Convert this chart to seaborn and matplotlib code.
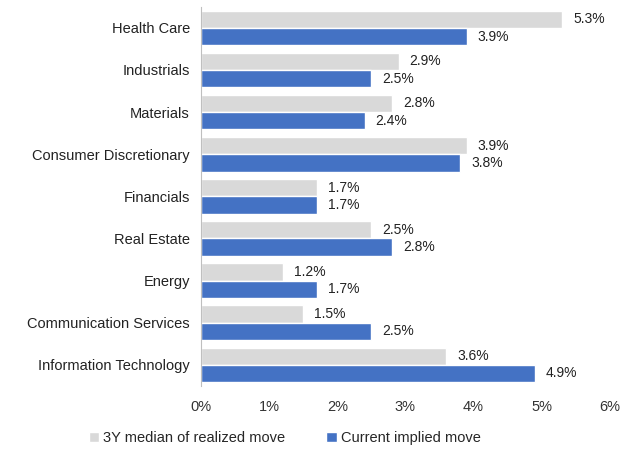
import pandas as pd
import numpy as np
import matplotlib.pyplot as plt
import seaborn as sns
from matplotlib.ticker import FixedLocator, PercentFormatter

# values (in %)
sectors = ['Health Care', 'Industrials', 'Materials', 'Consumer Discretionary',
           'Financials', 'Real Estate', 'Energy', 'Communication Services',
           'Information Technology']
realized = [5.3, 2.9, 2.8, 3.9, 1.7, 2.5, 1.2, 1.5, 3.6]
implied = [3.9, 2.5, 2.4, 3.8, 1.7, 2.8, 1.7, 2.5, 4.9]
series = ['3Y median of realized move', 'Current implied move']
colors = ['#d9d9d9', '#4472c4']

df = pd.DataFrame({'sector': sectors * 2,
                   'value': realized + implied,
                   'series': [series[0]] * len(sectors) + [series[1]] * len(sectors)})

sns.set_theme(style='white')
plt.rcParams['font.family'] = ['Liberation Sans Narrow', 'Liberation Sans', 'DejaVu Sans']

fig, ax = plt.subplots(figsize=(6.32, 4.54), dpi=100)
fig.subplots_adjust(left=0.318, right=0.965, top=0.985, bottom=0.15)

sns.barplot(data=df, x='value', y='sector', hue='series', orient='h',
            palette=colors, order=sectors, hue_order=series,
            width=0.82, saturation=1, ax=ax)

# value labels to the right of each bar
for cont in ax.containers:
    ax.bar_label(cont, labels=[f'{v:.1f}%' for v in cont.datavalues],
                 padding=8, fontsize=10, color='#222222')

ax.set_xlim(0, 6)
ax.set_xticks(range(0, 7))
ax.xaxis.set_major_formatter(PercentFormatter(decimals=0))
ax.set_xlabel('')
ax.set_ylabel('')
ax.tick_params(axis='x', length=0, labelsize=10.5, colors='#333333', pad=10)
ax.tick_params(axis='y', which='major', length=0, labelsize=10.5, colors='#222222', pad=8)

# small separators between categories on the y axis
ax.yaxis.set_minor_locator(FixedLocator(np.arange(-0.5, len(sectors), 1.0)))
ax.tick_params(axis='y', which='minor', length=5, color='#bfbfbf', width=0.8)

for s in ['top', 'right', 'bottom']:
    ax.spines[s].set_visible(False)
ax.spines['left'].set_color('#bfbfbf')
ax.spines['left'].set_linewidth(0.8)

ax.legend(loc='upper center', bbox_to_anchor=(0.205, -0.085), ncol=2, frameon=False,
          fontsize=10.5, handlelength=0.7, handleheight=0.7, handletextpad=0.3,
          columnspacing=2.8)

plt.savefig('out.png', dpi=100)
